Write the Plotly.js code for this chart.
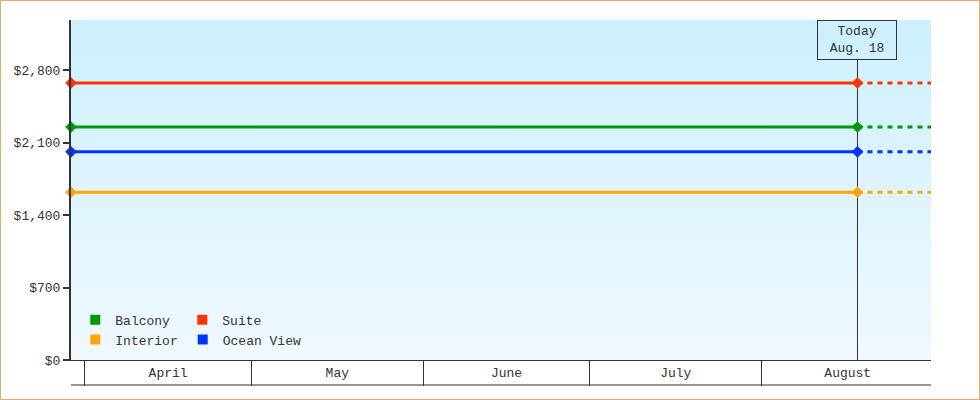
<!DOCTYPE html>
<html><head><meta charset="utf-8">
<script src="https://cdn.plot.ly/plotly-3.0.1.min.js"></script>
<style>
html,body{margin:0;padding:0;background:#fff;}
#chart{width:980px;height:400px;box-sizing:border-box;border:1px solid #eba962;}
</style></head><body><div id="chart"></div>
<script>
// ---- data ----
const seriesNames  = ['Balcony', 'Suite', 'Interior', 'Ocean View'];
const seriesPrices = [2250, 2675, 1620, 2010];
const seriesColors = ['#009900', '#ff3300', '#ffa500', '#0033ff'];
const startDate = '2024-03-29 12:00';
const todayDate = '2024-08-18 06:00';
const endDate   = '2024-08-31 12:00';
const todayLabel = 'Today<br>Aug. 18';
const yTicks = [0, 700, 1400, 2100, 2800];
const yTickLabels = ['$0', '$700', '$1,400', '$2,100', '$2,800'];
const yMax = 3283;

const FONT = 'Liberation Mono, DejaVu Sans Mono, monospace';
const INK = '#333333';

const traces = [];
seriesNames.forEach((name, i) => {
  const p = seriesPrices[i];
  traces.push({
    type: 'scatter', mode: 'lines+markers', name: name,
    x: [startDate, todayDate], y: [p, p],
    line: {color: seriesColors[i], width: 3},
    marker: {symbol: 'diamond', size: 9, color: seriesColors[i]},
    cliponaxis: false, showlegend: false, hoverinfo: 'skip'
  });
  traces.push({
    type: 'scatter', mode: 'lines', name: name + ' (projected)',
    x: [todayDate, endDate], y: [p, p],
    line: {color: seriesColors[i], width: 3, dash: '5px,5px'},
    showlegend: false, hoverinfo: 'skip'
  });
});
// legend entries (square swatches)
seriesNames.forEach((name, i) => {
  traces.push({
    type: 'scatter', mode: 'markers', name: name,
    x: [null], y: [null],
    marker: {symbol: 'square', size: 10, color: seriesColors[i]},
    legend: i < 2 ? 'legend' : 'legend2', showlegend: true
  });
});

const grad = "<svg xmlns='http://www.w3.org/2000/svg' width='100' height='100' preserveAspectRatio='none'>" +
  "<defs><linearGradient id='g' x1='0' y1='0' x2='0' y2='1'>" +
  "<stop offset='0' stop-color='#ccf0fd'/><stop offset='1' stop-color='#f0f9fe'/>" +
  "</linearGradient></defs><rect width='100' height='100' fill='url(#g)'/></svg>";

const legendCommon = {
  orientation: 'h', xanchor: 'left', yanchor: 'middle',
  bgcolor: 'rgba(0,0,0,0)', borderwidth: 0,
  font: {family: FONT, size: 13, color: INK},
  tracegroupgap: 0
};

const layout = {
  width: 978, height: 398,
  margin: {l: 70, r: 48, t: 19, b: 39, pad: 0},
  paper_bgcolor: '#ffffff', plot_bgcolor: 'rgba(0,0,0,0)',
  font: {family: FONT, size: 13, color: INK},
  showlegend: true,
  legend: Object.assign({}, legendCommon, {x: 0.005, y: 0.118, entrywidth: 62}),
  legend2: Object.assign({}, legendCommon, {x: 0.005, y: 0.06}),
  images: [{
    source: 'data:image/svg+xml;charset=utf-8,' + encodeURIComponent(grad),
    xref: 'paper', yref: 'paper', x: 0, y: 1, sizex: 1, sizey: 1,
    xanchor: 'left', yanchor: 'top', sizing: 'stretch', layer: 'below'
  }],
  xaxis: {
    type: 'date', range: [startDate, endDate],
    tick0: '2024-04-01', dtick: 'M1', ticklabelmode: 'period', tickformat: '%B',
    ticks: 'outside', ticklen: 25, tickwidth: 1, tickcolor: INK,
    ticklabelstandoff: -25,
    showline: true, linecolor: INK, linewidth: 1,
    showgrid: false, zeroline: false, fixedrange: true,
    tickfont: {family: FONT, size: 13, color: INK}
  },
  yaxis: {
    range: [0, yMax], tickmode: 'array', tickvals: yTicks, ticktext: yTickLabels,
    ticks: 'outside', ticklen: 6, tickwidth: 2, tickcolor: INK,
    showline: true, linecolor: INK, linewidth: 2,
    showgrid: false, zeroline: false, fixedrange: true,
    tickfont: {family: FONT, size: 13, color: INK}
  },
  shapes: [
    {type: 'line', xref: 'paper', yref: 'paper', x0: 0, x1: 1, y0: -25/340, y1: -25/340,
     line: {color: INK, width: 1}},
    {type: 'line', xref: 'x', yref: 'paper', x0: todayDate, x1: todayDate, y0: 0, y1: 300/340,
     line: {color: INK, width: 1}, layer: 'below'}
  ],
  annotations: [{
    x: todayDate, xref: 'x', y: 1, yref: 'paper', yanchor: 'top', xanchor: 'center',
    text: todayLabel, showarrow: false, align: 'center',
    width: 78, height: 38, borderpad: 0, borderwidth: 1, bordercolor: INK,
    font: {family: FONT, size: 13, color: INK}
  }]
};

Plotly.newPlot('chart', traces, layout, {displayModeBar: false, staticPlot: true});
</script></body></html>
